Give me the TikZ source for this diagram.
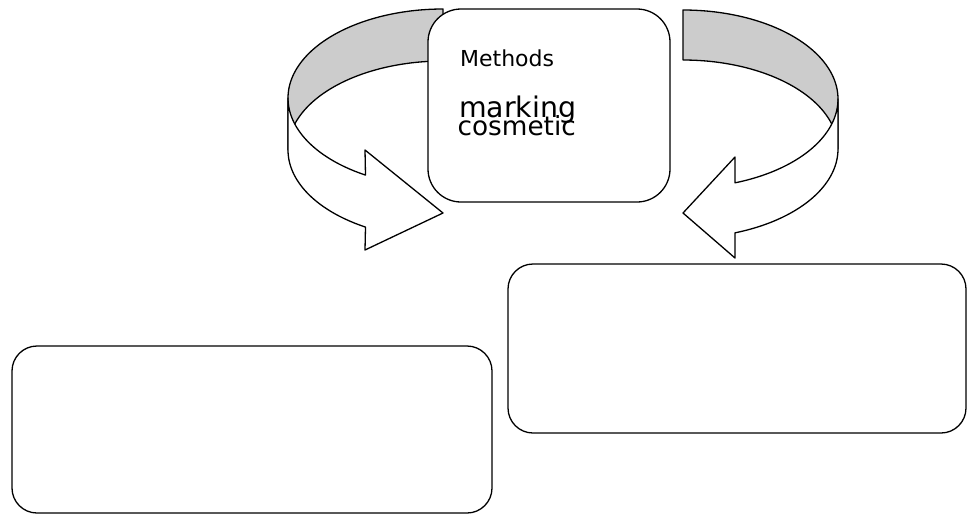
\documentclass[tikz,border=0pt]{standalone}
\usepackage{fontspec}
\setmainfont{DejaVu Sans}
\usepackage{xcolor}
\usetikzlibrary{positioning}

\begin{document}
\begin{tikzpicture}[x=1pt, y=-1pt, line width=1.3pt, line join=round,
            panel/.style={rectangle, draw, fill=white, rounded corners=25pt},
            band/.style={draw, fill=gray!40},
            ribbon/.style={draw, fill=white},
            word/.style={inner sep=0pt, anchor=base west}]

        \useasboundingbox (0,0) rectangle (968,515);

        % Left turning arrow
        \draw[band] plot[domain=270:180, samples=60, variable=\t] ({443+155*cos(\t)},{98+89*sin(\t)})
            -- plot[domain=180:270, samples=60, variable=\t] ({443+155*cos(\t)},{150+89*sin(\t)}) -- cycle;
        \draw[ribbon] plot[domain=180:120, samples=40, variable=\t] ({443+155*cos(\t)},{98+89*sin(\t)})
            -- (365,150) -- (443,213) -- (365,250)
            -- plot[domain=120:180, samples=40, variable=\t] ({443+155*cos(\t)},{150+89*sin(\t)}) -- cycle;

        % Right turning arrow
        \draw[band] plot[domain=-90:0, samples=60, variable=\t] ({683+155*cos(\t)},{99+89*sin(\t)})
            -- plot[domain=0:-90, samples=60, variable=\t] ({683+155*cos(\t)},{149+89*sin(\t)}) -- cycle;
        \draw[ribbon] plot[domain=0:70.4, samples=40, variable=\t] ({683+155*cos(\t)},{99+89*sin(\t)})
            -- (735,157) -- (683,213) -- (735,258)
            -- plot[domain=70.4:0, samples=40, variable=\t] ({683+155*cos(\t)},{149+89*sin(\t)}) -- cycle;

        % Boxes
        \node[panel, rounded corners=33pt, minimum width=242pt, minimum height=193pt] (methods) at (549,105.5) {};
        \node[panel, minimum width=480pt, minimum height=167pt] (leftbox) at (252,429.5) {};
        \node[panel, minimum width=458pt, minimum height=169pt] (rightbox) at (737,348.5) {};

        % Texts in the top box
        \node[word, font=\fontsize{22}{26}\selectfont] (title) at (459.5,66) {Methods};
        \node[word, font=\fontsize{28.4}{32}\selectfont] (marking) at (458.5,117.5) {marking};
        \node[word, font=\fontsize{26.3}{30}\selectfont] (cosmetic) at (457,135) {cosmetic};

    \end{tikzpicture}
\end{document}
